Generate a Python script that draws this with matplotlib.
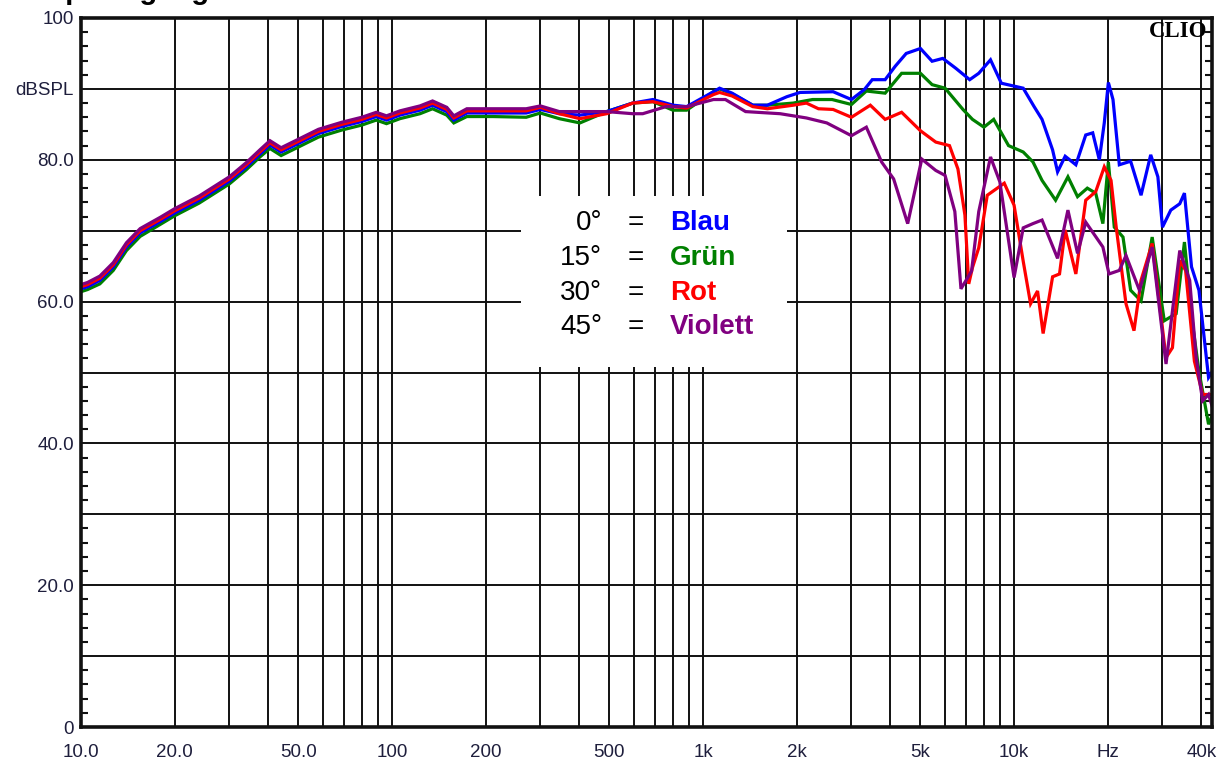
import matplotlib
matplotlib.use("Agg")
import matplotlib.pyplot as plt
from matplotlib.patches import Rectangle

plt.rcParams['font.family'] = ['Liberation Sans', 'DejaVu Sans']

# shared frequency points below 300 Hz (all four curves nearly coincide there)
f_low = [10, 10.5, 11.5, 12.7, 14, 15.5, 18, 20, 24, 30, 34, 37.6, 40.5, 44, 50,
         58, 69, 80, 89, 96, 106, 123, 135, 150, 158, 174, 211, 270, 300]

blau_low = [61.8, 62.1, 63.0, 64.9, 67.7, 69.7, 71.3, 72.5, 74.3, 77.0, 79.0, 80.8, 82.1, 81.1, 82.3,
            83.7, 84.7, 85.4, 86.1, 85.6, 86.3, 87.0, 87.7, 86.8, 85.6, 86.6, 86.6, 86.6, 87.1]
gruen_low = [61.4, 61.7, 62.5, 64.4, 67.2, 69.2, 70.9, 72.1, 73.9, 76.6, 78.6, 80.4, 81.6, 80.6, 81.8,
             83.2, 84.2, 84.9, 85.6, 85.1, 85.8, 86.5, 87.2, 86.3, 85.2, 86.1, 86.1, 86.0, 86.6]
rot_low = [62.1, 62.4, 63.3, 65.2, 68.0, 70.0, 71.6, 72.8, 74.6, 77.3, 79.3, 81.1, 82.4, 81.4, 82.6,
           84.0, 85.0, 85.7, 86.4, 85.9, 86.6, 87.3, 88.0, 87.1, 85.9, 86.9, 86.9, 86.9, 87.4]
violett_low = [62.4, 62.7, 63.6, 65.5, 68.3, 70.3, 71.9, 73.1, 74.9, 77.6, 79.6, 81.4, 82.7, 81.7, 82.9,
               84.3, 85.3, 86.0, 86.7, 86.2, 86.9, 87.6, 88.3, 87.4, 86.2, 87.2, 87.2, 87.2, 87.6]

# 0 deg
blau_f = [345, 402, 490, 594, 690, 802, 886, 1080, 1130, 1240, 1445, 1610, 1860, 2050, 2620,
          3000, 3300, 3500, 3850, 4150, 4500, 5000, 5450, 5900, 6500, 7200, 7700, 8400, 9100, 10700,
          11600, 12300, 13300, 13800, 14600, 15800, 17000, 17900, 18800, 19500, 20100, 20800, 21800,
          23700, 25600, 27500, 29000, 30000, 31900, 34100, 35300, 37200, 39300, 42200, 43500]
blau_db = [86.5, 86.3, 86.8, 88.0, 88.5, 87.7, 87.5, 89.6, 90.1, 89.4, 87.7, 87.7, 88.9, 89.5, 89.6,
           88.5, 89.9, 91.3, 91.3, 93.2, 95.0, 95.7, 93.9, 94.3, 92.9, 91.3, 92.2, 94.1, 90.8, 90.1,
           87.5, 85.7, 81.4, 78.3, 80.5, 79.3, 83.5, 83.8, 80.0, 85.2, 90.9, 88.5, 79.3,
           79.8, 75.0, 80.7, 77.6, 70.5, 72.9, 73.8, 75.3, 64.9, 61.6, 49.3, 50.2]

# 15 deg
gruen_f = [345, 402, 490, 594, 690, 800, 886, 1080, 1130, 1240, 1445, 1610, 1950, 2250, 2600,
           3000, 3350, 3850, 4350, 5000, 5450, 6000, 6850, 7350, 8000, 8600, 9600, 10700, 11500,
           12300, 13600, 14900, 16000, 17200, 18300, 19300, 20100, 21000, 22400, 23700, 25600,
           27800, 30400, 33200, 35300, 37600, 39300, 42200, 43500]
gruen_db = [85.8, 85.2, 86.8, 88.0, 88.2, 87.0, 87.0, 89.6, 90.0, 89.3, 87.7, 87.7, 88.0, 88.5, 88.5,
            87.8, 89.7, 89.4, 92.2, 92.2, 90.6, 90.1, 87.1, 85.7, 84.6, 85.7, 82.0, 81.1, 79.7,
            77.1, 74.3, 77.6, 74.8, 76.0, 75.3, 71.0, 79.7, 70.5, 69.1, 61.6, 60.1,
            69.1, 57.3, 58.3, 68.4, 56.4, 50.2, 42.7, 44.1]

# 30 deg
rot_f = [345, 402, 490, 594, 690, 802, 886, 1080, 1130, 1240, 1445, 1610, 1950, 2150, 2350, 2620,
         3000, 3450, 3850, 4350, 5000, 5600, 6200, 6600, 6950, 7150, 7350, 7700, 8200, 9300, 10000,
         10700, 11300, 11900, 12400, 13300, 14000, 14600, 15800, 17000, 18300, 19500, 20500, 21300,
         22900, 24300, 25600, 27800, 30800, 32300, 34100, 35600, 38000, 40400, 43500]
rot_db = [86.5, 85.8, 86.5, 88.0, 88.2, 87.5, 87.3, 89.2, 89.5, 89.0, 87.5, 87.2, 87.7, 88.0, 87.2, 87.1,
          86.0, 87.7, 85.7, 86.7, 84.1, 82.5, 82.0, 78.7, 72.2, 62.5, 64.8, 67.6, 75.0, 76.7, 73.6,
          65.7, 59.7, 61.5, 55.5, 63.5, 63.9, 70.1, 63.9, 74.3, 75.5, 79.0, 77.1, 70.5,
          59.7, 55.9, 63.0, 68.2, 52.1, 53.5, 65.8, 64.4, 51.6, 46.9, 46.9]

# 45 deg
violett_f = [345, 402, 490, 594, 640, 760, 886, 1080, 1180, 1370, 1770, 2150, 2500,
             3000, 3350, 3750, 4100, 4550, 5050, 5600, 6000, 6450, 6750, 7300, 7700, 8400, 9000,
             10000, 10700, 11500, 12300, 13800, 14900, 16000, 17000, 19300, 20200, 21800, 22900,
             25300, 27800, 30800, 34100, 36700, 38500, 40400, 42200, 43500]
violett_db = [86.8, 86.8, 86.8, 86.5, 86.5, 87.5, 87.5, 88.5, 88.5, 86.8, 86.5, 85.9, 85.2,
              83.4, 84.6, 79.7, 77.3, 71.0, 80.1, 78.5, 77.8, 72.7, 61.8, 64.3, 72.7, 80.4, 76.9,
              63.4, 70.4, 71.0, 71.5, 66.1, 72.9, 66.8, 71.2, 67.7, 63.9, 64.4, 66.5,
              61.6, 67.7, 51.2, 67.2, 63.0, 52.1, 46.0, 46.9, 45.0]

legend_angles = ['0°', '15°', '30°', '45°']
legend_names = ['Blau', 'Grün', 'Rot', 'Violett']
colors = ['#0000ff', '#008000', '#ff0000', '#800080']

x_labels = {10: '10.0', 20: '20.0', 50: '50.0', 100: '100', 200: '200', 500: '500',
            1000: '1k', 2000: '2k', 5000: '5k', 10000: '10k', 20000: 'Hz', 40000: '40k'}
y_labels = {0: '0', 20: '20.0', 40: '40.0', 60: '60.0', 80: '80.0', 90: 'dBSPL', 100: '100'}

grid_hz = [m * 10 ** d for d in range(1, 5) for m in range(1, 10) if m * 10 ** d <= 40000]

fig = plt.figure(figsize=(12.27, 7.69), dpi=100)
ax = fig.add_axes([0.066, 0.0546, 0.9218, 0.922])
ax.set_xscale('log')
ax.set_xlim(10, 43300)
ax.set_ylim(0, 100)
ax.set_axisbelow(True)

ax.set_xticks(grid_hz)
ax.set_xticklabels([x_labels.get(f, '') for f in grid_hz])
ax.minorticks_off()
ax.set_yticks(range(0, 101, 10))
ax.set_yticklabels([y_labels.get(v, '') for v in range(0, 101, 10)])
ax.set_yticks(range(0, 101, 2), minor=True)
ax.grid(True, which='major', color='#111111', lw=1.4)

lab_col = '#1e1e3c'
ax.tick_params(axis='x', which='major', length=0, pad=12, labelsize=13.5, labelcolor=lab_col)
ax.tick_params(axis='y', which='major', length=0, pad=5, labelsize=13.5, labelcolor=lab_col)
ax.tick_params(axis='y', which='minor', direction='in', length=5, width=1.5,
               left=True, right=True, color='#111111')
for s in ax.spines.values():
    s.set_linewidth(2.6)
    s.set_color('#111111')

series = [(gruen_low, gruen_f, gruen_db, colors[1]),
          (blau_low, blau_f, blau_db, colors[0]),
          (rot_low, rot_f, rot_db, colors[2]),
          (violett_low, violett_f, violett_db, colors[3])]
for low, fh, dbh, c in series:
    ax.plot(f_low + fh, low + dbh, color=c, lw=2.3, solid_joinstyle='miter')

# white legend panel that hides the grid
ax.add_patch(Rectangle((0.389, 0.508), 0.235, 0.241, transform=ax.transAxes,
                       facecolor='white', edgecolor='none', zorder=1))
row_y = [0.711, 0.661, 0.612, 0.564]
for yy, ang, name, c in zip(row_y, legend_angles, legend_names, colors):
    ax.text(0.4607, yy, ang, transform=ax.transAxes, ha='right', va='center', fontsize=20, zorder=3)
    ax.text(0.4907, yy, '=', transform=ax.transAxes, ha='center', va='center', fontsize=20, zorder=3)
    ax.text(0.5208, yy, name, transform=ax.transAxes, ha='left', va='center', fontsize=20,
            fontweight='bold', color=c, zorder=3)

ax.text(0.996, 0.981, 'CLIO', transform=ax.transAxes, ha='right', va='center',
        family=['Liberation Serif', 'DejaVu Serif'], fontweight='bold', fontsize=16.5, zorder=3)

# title sits above the picture, only the descenders show
fig.text(0.008, 1.0 + 1.5 / 769, 'Frequenzgang', fontsize=21, fontweight='bold', va='baseline', ha='left')

fig.savefig('out.png', dpi=100)
